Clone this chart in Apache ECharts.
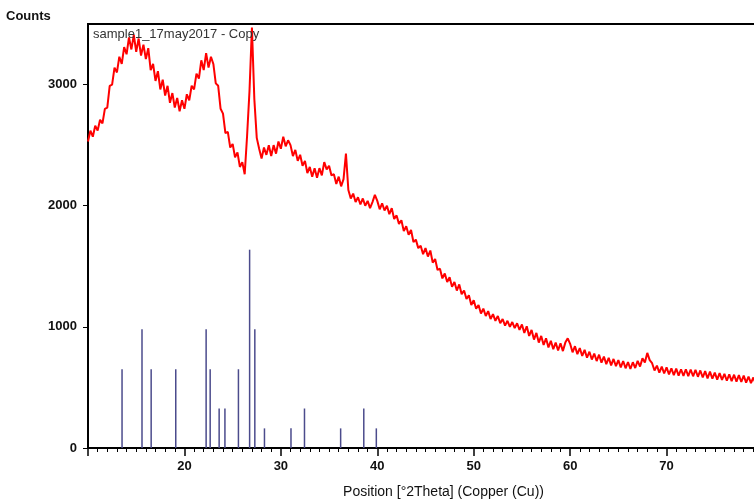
<!DOCTYPE html>
<html>
<head>
<meta charset="utf-8">
<script src="https://cdn.jsdelivr.net/npm/echarts@6/dist/echarts.min.js"></script>
<style>
  html, body { margin: 0; padding: 0; background: #fff; overflow: hidden; }
  /* the reference is cropped just short of 80 °2Theta, so the chart is a bit wider than the window */
  #chart { width: 763px; height: 504px; }
</style>
</head>
<body>
<div id="chart"></div>
<script>
// scan: 10..80 °2Theta, step 0.25
const scanStart = 10;
const scanStep = 0.25;
const counts = [
  2530, 2620, 2570, 2660,  2620, 2710, 2680, 2800,  2810, 2990, 3000, 3140,
  3100, 3230, 3170, 3310,  3250, 3390, 3290, 3410,  3270, 3380, 3240, 3330,
  3210, 3300, 3120, 3170,  3030, 3110, 2960, 3040,  2910, 2990, 2850, 2930,
  2810, 2890, 2780, 2870,  2800, 2920, 2870, 2990,  2960, 3090, 3050, 3200,
  3120, 3260, 3140, 3230,  3170, 3010, 2990, 2800,  2760, 2600, 2610, 2480,
  2510, 2400, 2440, 2320,  2360, 2260, 2580, 2950,  3470, 2880, 2560, 2470,
  2390, 2480, 2420, 2500,  2410, 2500, 2430, 2530,  2470, 2570, 2490, 2540,
  2500, 2410, 2460, 2370,  2420, 2330, 2370, 2270,  2320, 2240, 2310, 2230,
  2310, 2250, 2360, 2300,  2330, 2250, 2260, 2180,  2240, 2160, 2220, 2430,
  2130, 2060, 2100, 2030,  2070, 2010, 2060, 2000,  2040, 1980, 2030, 2090,
  2040, 1970, 2020, 1960,  2000, 1930, 1980, 1890,  1920, 1850, 1880, 1790,
  1830, 1760, 1800, 1700,  1720, 1650, 1670, 1600,  1650, 1580, 1630, 1530,
  1560, 1470, 1480, 1400,  1440, 1370, 1410, 1330,  1370, 1300, 1350, 1270,
  1300, 1230, 1260, 1180,  1220, 1150, 1180, 1110,  1150, 1090, 1130, 1065,
  1105, 1050, 1090, 1030,  1065, 1010, 1050, 1000,  1040, 990, 1030, 975,
  1020, 950, 1005, 925,  975, 895, 950, 870,  925, 850, 905, 830,
  885, 815, 870, 805,  865, 800, 870, 905,  860, 790, 840, 775,
  825, 760, 810, 745,  795, 730, 780, 718,  770, 705, 755, 692,
  745, 682, 735, 675,  725, 665, 718, 658,  710, 652, 708, 660,
  720, 672, 740, 705,  785, 725, 700, 640,  680, 622, 672, 615,
  665, 608, 658, 602,  655, 598, 650, 595,  650, 593, 648, 592,
  646, 588, 640, 582,  635, 575, 630, 572,  622, 565, 618, 562,
  612, 555, 608, 552,  605, 548, 602, 545,  598, 540, 590, 535,
  582, 528, 575, 522,  545
];

// reference pattern sticks
const stickPos = [13.53, 15.6, 16.55, 19.1, 22.25, 22.67, 23.6, 24.2, 25.6, 26.76, 27.3, 28.3, 31.05, 32.45, 36.2, 38.6, 39.9];
const stickCounts = [650, 980, 650, 650, 980, 650, 326, 326, 650, 1637, 980, 162, 162, 326, 162, 326, 162];

const yTicks = [0, 1000, 2000, 3000];

const chart = echarts.init(document.getElementById('chart'));

const labelFont = {
  color: '#111',
  fontSize: 13,
  fontWeight: 'bold',
  fontFamily: '"Liberation Sans Narrow", "Liberation Sans", Arial, sans-serif'
};

chart.setOption({
  animation: false,
  title: [
    {
      text: 'Counts',
      left: 1,
      top: 5,
      textStyle: { fontSize: 13, fontWeight: 'bold', color: '#111', fontFamily: 'Liberation Sans, Arial, sans-serif' }
    },
    {
      text: 'sample1_17may2017 - Copy',
      left: 88,
      top: 23,
      textStyle: { fontSize: 13, fontWeight: 'normal', color: '#333', fontFamily: 'Liberation Sans, Arial, sans-serif' }
    }
  ],
  grid: {
    left: 88,
    right: 0,
    top: 24,
    bottom: 55,
    show: true,
    borderColor: '#000',
    borderWidth: 2
  },
  xAxis: {
    type: 'value',
    min: 10,
    max: 80,
    interval: 10,
    name: 'Position [°2Theta] (Copper (Cu))',
    nameLocation: 'middle',
    nameGap: 37,
    nameTextStyle: {
      color: '#111',
      fontSize: 14,
      fontFamily: '"Liberation Sans Narrow", "Liberation Sans", Arial, sans-serif',
      padding: [0, 0, 0, 36]
    },
    axisLine: { lineStyle: { color: '#000', width: 2 } },
    axisTick: { length: 8, lineStyle: { color: '#000', width: 1.5 } },
    minorTick: { show: true, splitNumber: 10, length: 4, lineStyle: { color: '#000', width: 1 } },
    axisLabel: Object.assign({ margin: 12, showMinLabel: false, showMaxLabel: false, formatter: v => String(v) }, labelFont),
    splitLine: { show: false }
  },
  yAxis: {
    type: 'value',
    min: 0,
    max: 3500,
    interval: 1000,
    axisLine: { show: true, lineStyle: { color: '#000', width: 2 } },
    axisTick: { show: true, length: 5, customValues: yTicks, lineStyle: { color: '#000', width: 1 } },
    axisLabel: Object.assign({ margin: 11, customValues: yTicks, formatter: v => String(v) }, labelFont),
    splitLine: { show: false }
  },
  series: [
    {
      type: 'bar',
      data: stickPos.map((p, i) => [p, stickCounts[i]]),
      barWidth: 1.5,
      itemStyle: { color: '#4b4b8c' },
      silent: true
    },
    {
      type: 'line',
      data: counts.map((c, i) => [scanStart + i * scanStep, c]),
      showSymbol: false,
      lineStyle: { color: '#ff0000', width: 2 },
      z: 3
    }
  ]
});
</script>
</body>
</html>
